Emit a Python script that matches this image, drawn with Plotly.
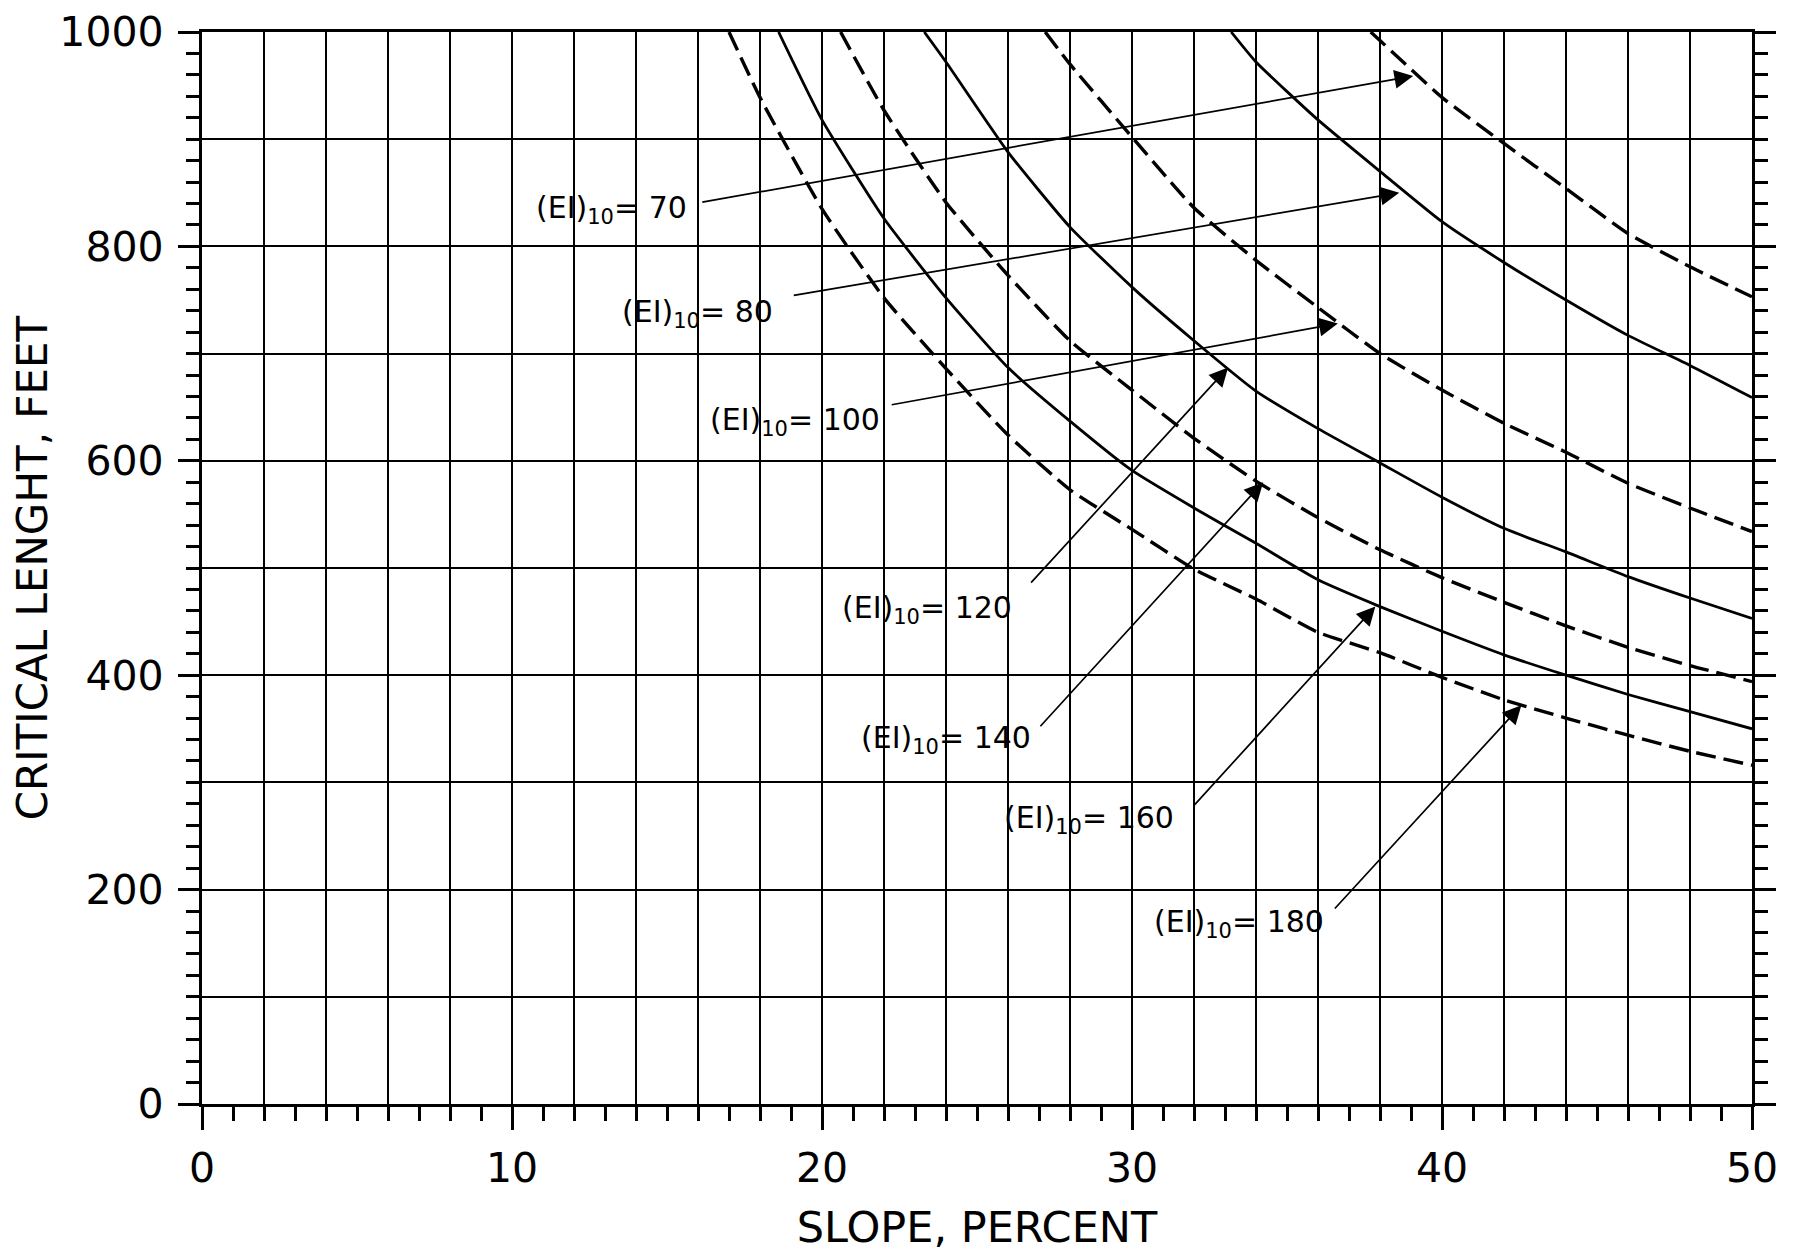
import plotly.graph_objects as go

# ---------------- data ----------------
ei_values = [70, 80, 100, 120, 140, 160, 180]

slope_70 = [37.7, 38, 40, 42, 44, 46, 48, 50]
length_70 = [1000, 992, 939, 896, 854, 812, 781, 753]

slope_80 = [33.2, 34, 36, 38, 40, 42, 44, 46, 48, 50]
length_80 = [1000, 972, 918, 870, 823, 785, 750, 717, 689, 659]

slope_100 = [27.2, 28, 30, 32, 34, 36, 38, 40, 42, 44, 46, 48, 50]
length_100 = [1000, 970, 902, 836, 787, 743, 700, 666, 635, 608, 579, 556, 534]

slope_120 = [23.3, 24, 26, 28, 30, 32, 34, 36, 38, 40, 42, 44, 46, 48, 50]
length_120 = [1000, 972, 888, 818, 762, 712, 665, 630, 598, 566, 537, 515, 492, 472, 453]

slope_140 = [20.6, 22, 24, 26, 28, 30, 32, 34, 36, 38, 40, 42, 44, 46, 48, 50]
length_140 = [1000, 927, 841, 773, 712, 666, 621, 581, 547, 517, 491, 468, 446, 426, 409, 394]

slope_160 = [18.6, 20, 22, 24, 26, 28, 30, 32, 34, 36, 38, 40, 42, 44, 46, 48, 50]
length_160 = [1000, 918, 826, 752, 687, 637, 591, 556, 523, 489, 464, 441, 419, 400, 382, 366, 350]

slope_180 = [17.0, 18, 20, 22, 24, 26, 28, 30, 32, 34, 36, 38, 40, 42, 44, 46, 48, 50]
length_180 = [1000, 939, 835, 752, 686, 624, 573, 536, 499, 471, 440, 421, 398, 377, 360, 344, 329, 316]

x_title = "SLOPE, PERCENT"
y_title = "CRITICAL LENGHT, FEET"

series = {
    70: (slope_70, length_70),
    80: (slope_80, length_80),
    100: (slope_100, length_100),
    120: (slope_120, length_120),
    140: (slope_140, length_140),
    160: (slope_160, length_160),
    180: (slope_180, length_180),
}
dashed_ei = {70, 100, 140, 180}

# label placement: (text right edge x, text centre y, arrow tail x, tail y, arrow head x, head y)
label_pos = {
    70: (15.71, 839, 16.09, 841, 39.07, 959),
    80: (18.47, 742, 19.04, 754, 38.62, 850),
    100: (21.94, 641, 22.2, 652, 36.64, 728),
    120: (26.2, 466, 26.7, 485, 33.1, 687),
    140: (26.82, 345, 27.0, 351, 34.23, 580),
    160: (31.41, 270, 31.95, 277, 37.85, 464),
    180: (36.27, 173, 36.5, 181, 42.56, 372),
}

FONT = "DejaVu Sans"
INK = "black"

fig = go.Figure()

for ei in ei_values:
    xs, ys = series[ei]
    dashed = ei in dashed_ei
    fig.add_trace(go.Scatter(
        x=xs, y=ys, mode="lines",
        name=f"(EI)10 = {ei}",
        line=dict(color=INK, width=3.4 if dashed else 2.8,
                  dash="20px,8px" if dashed else "solid",
                  shape="spline", smoothing=0.5),
        showlegend=False, hoverinfo="skip",
    ))

# empty trace so that the overlay (grid) axes form a subplot
fig.add_trace(go.Scatter(x=[], y=[], xaxis="x2", yaxis="y2",
                         showlegend=False, hoverinfo="skip"))

for ei in ei_values:
    tx, ty, ax, ay, hx, hy = label_pos[ei]
    fig.add_annotation(
        x=tx, y=ty, xref="x", yref="y", showarrow=False,
        text=f"(EI)<sub>10</sub>= {ei}",
        xanchor="right", yanchor="middle", yshift=-5,
        font=dict(family=FONT, size=30, color=INK),
    )
    fig.add_annotation(
        x=hx, y=hy, ax=ax, ay=ay, xref="x", yref="y", axref="x", ayref="y",
        text="", showarrow=True, arrowhead=2, arrowsize=2.2, arrowwidth=1.7,
        arrowcolor=INK, standoff=0, startstandoff=0,
    )

tickfont = dict(family=FONT, size=41, color=INK)

fig.update_layout(
    width=1797, height=1253,
    margin=dict(l=194, r=53, t=24, b=157, autoexpand=False),
    paper_bgcolor="white", plot_bgcolor="white",
    showlegend=False,
    xaxis=dict(
        range=[0, 50], tick0=0, dtick=10, ticks="outside", ticklen=23, tickwidth=2.6,
        tickcolor=INK, showgrid=False, zeroline=False, showline=True, linewidth=3.2,
        linecolor=INK, mirror=True, tickfont=tickfont, ticklabelstandoff=3,
        minor=dict(dtick=1, tick0=0, ticks="outside", ticklen=14, tickwidth=2.6,
                   tickcolor=INK, showgrid=False),
        title=dict(text=x_title, font=dict(family=FONT, size=43, color=INK), standoff=21),
        automargin=False,
    ),
    yaxis=dict(
        range=[0, 1000], tick0=0, dtick=200, ticks="outside", ticklen=21, tickwidth=2.6,
        tickcolor=INK, showgrid=False, zeroline=False, showline=True, linewidth=3.2,
        linecolor=INK, mirror="ticks", tickfont=tickfont, ticklabelstandoff=6,
        minor=dict(dtick=20, tick0=0, ticks="outside", ticklen=13, tickwidth=2.6,
                   tickcolor=INK, showgrid=False),
        title=dict(text=y_title, font=dict(family=FONT, size=42, color=INK), standoff=4),
        automargin=False,
    ),
    xaxis2=dict(
        range=[0, 50], overlaying="x", anchor="y", tick0=0, dtick=2,
        showgrid=True, gridcolor=INK, gridwidth=2.4, showticklabels=False,
        ticks="", zeroline=False, showline=False,
    ),
    yaxis2=dict(
        range=[0, 1000], overlaying="y", anchor="x", side="left", tick0=0, dtick=100,
        showgrid=True, gridcolor=INK, gridwidth=2.4, showticklabels=False,
        ticks="", zeroline=False, showline=False,
    ),
)

fig.write_html("out.html")
